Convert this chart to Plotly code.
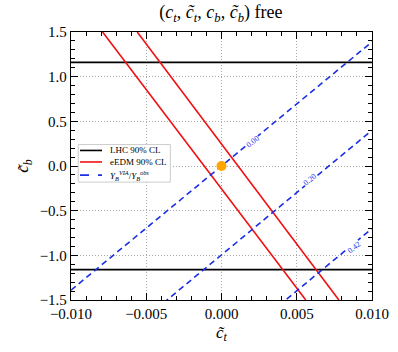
import plotly.graph_objects as go

# LHC 90% CL bounds on c~_b
lhc_cb = [1.16, -1.16]

# eEDM 90% CL band edges: c~_t where each edge meets c~_b = +1.5 and -1.5
edm_cb = [1.5, -1.5]
edm_left_ct = [-0.0079, 0.0056]
edm_right_ct = [-0.0056, 0.0078]

# Y_B^VIA / Y_B^obs contours, given by their c~_b at c~_t = -0.01 and 0.01
yb_ct = [-0.010, 0.010]
yb_levels = ["0.00", "0.20", "0.42"]
yb_cb = [[-1.39, 1.39], [-2.39, 0.40], [-3.49, -0.70]]
yb_label_pos = [(0.0021, 0.27), (0.0059, -0.155), (0.0088, -0.91)]

SERIF = "Liberation Serif"
RED = "#f01010"
BLUE = "#1a2ee6"

fig = go.Figure()

for cb in lhc_cb:
    fig.add_trace(go.Scatter(x=[-0.01, 0.01], y=[cb, cb], mode="lines",
                             line=dict(color="black", width=1.6), showlegend=False))

for ct in [edm_left_ct, edm_right_ct]:
    fig.add_trace(go.Scatter(x=ct, y=edm_cb, mode="lines",
                             line=dict(color=RED, width=1.6), showlegend=False))

for cb in yb_cb:
    fig.add_trace(go.Scatter(x=yb_ct, y=cb, mode="lines",
                             line=dict(color=BLUE, width=1.6, dash="6px,4px"),
                             showlegend=False))

# contour labels
for lev, (lx, ly) in zip(yb_levels, yb_label_pos):
    fig.add_annotation(x=lx, y=ly, text=lev, showarrow=False, textangle=-39,
                       xanchor="center", yanchor="middle",
                       font=dict(family=SERIF, size=8, color=BLUE),
                       bgcolor="white", borderpad=0)

# SM point
fig.add_trace(go.Scatter(x=[0], y=[0], mode="markers",
                         marker=dict(color="orange", size=10),
                         showlegend=False))

# hand-drawn legend box (matplotlib style, compact rows)
fig.add_shape(type="rect", xref="paper", yref="paper", x0=0.024, x1=0.33, y0=0.44, y1=0.58,
              line=dict(color="#cccccc", width=1), fillcolor="white", layer="above")
legend_rows = [("LHC 90% CL", "black", "solid"),
               ("eEDM 90% CL", RED, "solid"),
               ("<i>Y<sub>B</sub><sup>VIA</sup></i>/<i>Y<sub>B</sub><sup>obs</sup></i>", BLUE, "dash")]
row_y = [0.558, 0.515, 0.466]
for (txt, col, dash), ry in zip(legend_rows, row_y):
    fig.add_shape(type="line", xref="paper", yref="paper", x0=0.03, x1=0.103, y0=ry, y1=ry,
                  line=dict(color=col, width=1.6, dash=dash), layer="above")
    fig.add_annotation(xref="paper", yref="paper", x=0.123, y=ry, text=txt, showarrow=False,
                       xanchor="left", yanchor="middle",
                       font=dict(family=SERIF, size=9, color="black"))

axis_common = dict(showline=True, linecolor="black", linewidth=1.3, mirror="allticks",
                   ticks="inside", ticklen=7, tickwidth=1, tickcolor="black",
                   showgrid=True, gridcolor="#a8a8a8", griddash="1px,2px", gridwidth=1,
                   zeroline=False, automargin=False,
                   tickfont=dict(family=SERIF, size=15, color="black"))

fig.update_xaxes(range=[-0.01, 0.01], tickvals=[-0.01, -0.005, 0, 0.005, 0.01],
                 ticktext=["\u22120.010", "\u22120.005", "0.000", "0.005", "0.010"],
                 minor=dict(ticks="inside", ticklen=4, dtick=0.001, tickcolor="black", showgrid=False),
                 title=dict(text="<i>c\u0303<sub>t</sub></i>", font=dict(family=SERIF, size=17),
                            standoff=4),
                 **axis_common)
fig.update_yaxes(range=[-1.5, 1.5], tickvals=[-1.5, -1, -0.5, 0, 0.5, 1, 1.5],
                 ticktext=["\u22121.5", "\u22121.0", "\u22120.5", "0.0", "0.5", "1.0", "1.5"],
                 minor=dict(ticks="inside", ticklen=4, dtick=0.1, tickcolor="black", showgrid=False),
                 title=dict(text="<i>c\u0303<sub>b</sub></i>", font=dict(family=SERIF, size=17),
                            standoff=6),
                 **axis_common)

fig.update_layout(
    width=398, height=352,
    margin=dict(l=71, r=26, t=32, b=52),
    plot_bgcolor="white", paper_bgcolor="white",
    showlegend=False,
    title=dict(text="(<i>c<sub>t</sub></i>, <i>c\u0303<sub>t</sub></i>, <i>c<sub>b</sub></i>, "
                    "<i>c\u0303<sub>b</sub></i>) free",
               x=0.555, xanchor="center", y=0.985, yanchor="top",
               font=dict(family=SERIF, size=18, color="black")),
    font=dict(family=SERIF, color="black"),
)

# page body margin would shift the figure inside the 398x352 window
fig.write_html("out.html", config={"displayModeBar": False},
               post_script="document.body.style.margin='0';document.body.style.overflow='hidden';")
